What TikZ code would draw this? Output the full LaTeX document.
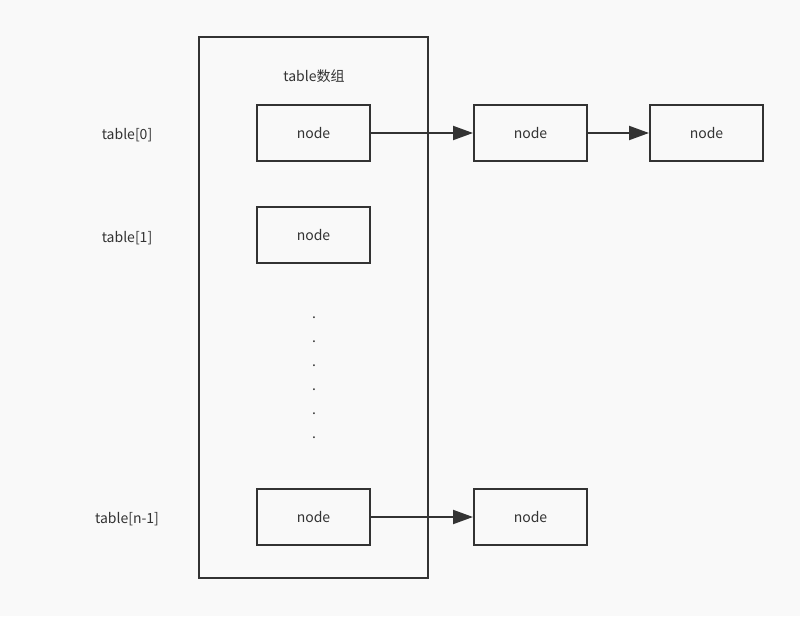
\documentclass[tikz,border=0pt]{standalone}
\usepackage{fontspec}
\setmainfont{Noto Sans CJK SC}
\usetikzlibrary{arrows.meta}
\definecolor{ink}{HTML}{333333}
\begin{document}
\begin{tikzpicture}[x=1pt,y=-1pt,
  box/.style={draw=ink,line width=2pt,minimum width=113pt,minimum height=56pt,inner sep=0pt,font=\fontsize{14}{16}\selectfont,text=ink},
  lab/.style={font=\fontsize{14}{16}\selectfont,text=ink},
  arr/.style={draw=ink,line width=2pt,-{Triangle[length=20pt,width=14pt]}}]
\fill[fill=gray!5] (0,0) rectangle (800,616);
\useasboundingbox (0,0) rectangle (800,616);
\node[draw=ink,line width=2pt,minimum width=229pt,minimum height=541pt,inner sep=0pt] (table) at (313.5,307.5) {};
\node[lab] (title) at (314,76) {table数组};
\node[box] (n0) at (313.5,133) {node};
\node[box] (n0b) at (530.5,133) {node};
\node[box] (n0c) at (706.5,133) {node};
\node[box] (n1) at (313.5,235) {node};
\node[box] (nn) at (313.5,517) {node};
\node[box] (nnb) at (530.5,517) {node};
\node[lab] (l0) at (127,135) {table[0]};
\node[lab] (l1) at (127,238) {table[1]};
\node[lab] (ln) at (127,519) {table[n-1]};
\foreach \y [count=\i] in {318,342,366,390,414,438} \node[lab,inner sep=0pt] (d\i) at (314,\y) {.};
\draw[arr] (n0) -- (n0b);
\draw[arr] (n0b) -- (n0c);
\draw[arr] (nn) -- (nnb);
\end{tikzpicture}
\end{document}
